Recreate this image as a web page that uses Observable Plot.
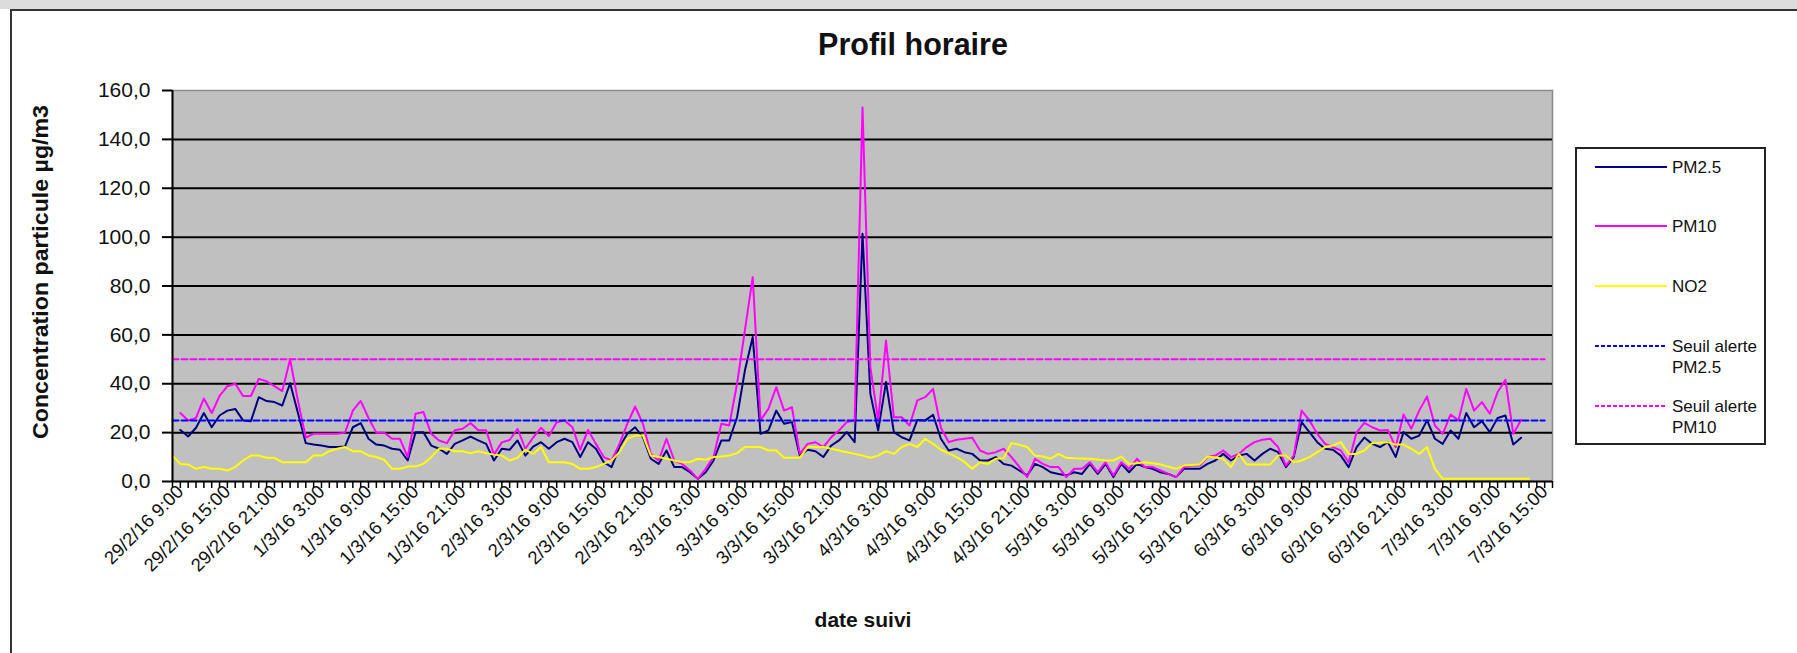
<!DOCTYPE html>
<html>
<head>
<meta charset="utf-8">
<script src="https://cdn.jsdelivr.net/npm/d3@7"></script>
<script src="https://cdn.jsdelivr.net/npm/@observablehq/plot@0.6"></script>
<style>
  html, body { margin: 0; padding: 0; background: #fff; }
  #wrap { position: relative; width: 1797px; height: 653px; overflow: hidden;
          font-family: "Liberation Sans", Arial, sans-serif; color: #111; }
  #band { position: absolute; left: 0; top: 0; width: 1797px; height: 9px; background: #dcdcdc; }
  #border { position: absolute; left: 10px; top: 9px; width: 1800px; height: 700px;
            border: 2px solid #333; box-sizing: border-box; pointer-events: none; }
  #chart { position: absolute; left: 0; top: 0; }
  #overlay { position: absolute; left: 0; top: 0; pointer-events: none; }
  #legend { position: absolute; left: 1575px; top: 147px; width: 191px; height: 298px;
            border: 2px solid #222; box-sizing: border-box; background: #fff; }
  .item { position: absolute; left: 0; width: 100%; }
  .item svg { position: absolute; left: 18px; top: 0; }
  .item span { position: absolute; left: 95px; top: 1px; font-size: 17px; line-height: 21px; color: #111; white-space: nowrap; }
</style>
</head>
<body>
<div id="wrap">
  <div id="band"></div>
  <div id="chart"></div>
  <svg id="overlay" width="1797" height="653"></svg>
  <div id="legend"></div>
  <div id="border"></div>
</div>
<script>
// ---- Data ----
// categories: hourly, first category 29/2/16 8:00
const startHour = new Date(2016, 1, 29, 8);
const nCategories = 177;
const fmtCat = d => `${d.getDate()}/${d.getMonth() + 1}/16 ${d.getHours()}:00`;
const categories = d3.range(nCategories).map(i => fmtCat(d3.timeHour.offset(startHour, i)));

const tickLabels = ["29/2/16 9:00","29/2/16 15:00","29/2/16 21:00","1/3/16 3:00","1/3/16 9:00","1/3/16 15:00",
  "1/3/16 21:00","2/3/16 3:00","2/3/16 9:00","2/3/16 15:00","2/3/16 21:00","3/3/16 3:00","3/3/16 9:00",
  "3/3/16 15:00","3/3/16 21:00","4/3/16 3:00","4/3/16 9:00","4/3/16 15:00","4/3/16 21:00","5/3/16 3:00",
  "5/3/16 9:00","5/3/16 15:00","5/3/16 21:00","6/3/16 3:00","6/3/16 9:00","6/3/16 15:00","6/3/16 21:00",
  "7/3/16 3:00","7/3/16 9:00","7/3/16 15:00"];

const yTicks = [0, 20, 40, 60, 80, 100, 120, 140, 160];

const pm25 = [null,
  21.1,18.4,22,28,22.2,27,29,29.7,25,24.7,34.5,32.9,32.5,31.1,40.2,28,15.7,15.1,14.7,14.1,
  14.1,14.3,22.2,23.9,17.5,15.1,14.7,13.4,13,8.6,20.2,20.2,14.7,13.4,11.3,15.4,16.8,18.4,16.8,15.4,
  8.6,13.4,13,16.8,10.6,14.3,16.1,13.4,16.1,17.5,16.1,10,16.1,13.4,7.9,5.9,14.1,19.5,22.2,18.1,
  9.3,7.2,12.7,5.9,5.9,3.8,1.1,3.8,8.6,16.8,16.8,26.3,45.4,59.1,19.5,20.9,29,23.6,24.3,10.6,
  13,12.4,10,14.7,16.8,20.2,16.1,101.4,35.9,20.9,40.7,20.2,18.1,16.8,25.2,25,27.3,17.5,12.7,13.4,
  12,11.3,8.6,8.6,10,7.2,6.5,4.5,2.5,7.2,5.9,3.8,3.1,2.5,3.8,3.1,7.2,3.1,7.2,1.8,
  7.2,3.8,7.2,5.9,5.2,3.8,3.1,1.8,5.2,5.2,5.2,7.2,8.6,11.3,8.6,10.6,11.3,8.6,11.3,13.4,
  12,5.9,10,24.3,20.2,16.1,13.4,13,10.6,5.9,14,18,15.4,14.1,16.1,10,20.2,17.5,18.8,25,
  17.5,15.4,20.9,17.5,28,22.2,24.7,20.2,26,27,15.1,17.9, null];

const pm10 = [null,
  28,25,26,34,28,35,39,40,35,35,42,41,39,37,50,33,18,19.5,19.5,19.5,
  19.5,20,29,33,26,20,20,17.5,17.5,10,27.7,28.4,19.5,16.8,15.7,21,21.6,23.9,21,21,
  11,16,17,21.6,13.4,18,22,18.6,24.2,25,22.2,13,21.1,15.4,10,8.6,15.4,23.6,30.7,23.6,
  11.3,8.6,17.5,8.6,7.2,4.5,1.1,5.2,10,23.6,22.9,40,61.8,83.6,25,29.7,38.6,29,30.4,11.3,
  15.4,16.1,14.1,18.1,20.9,24.3,25,153,46.8,25,57.7,26.3,26.3,22.9,33.2,34.5,37.9,22,16.1,17.1,
  17.5,17.9,12.7,11.3,12,13.4,10,6,1.8,9.3,7.2,5.9,5.9,1.8,5.2,5.2,7.9,3.8,7.9,2.5,
  7.9,5.2,9.3,5.9,5.9,4.5,3.1,1.8,5.9,6.5,6.5,10,10.6,12.7,10,11.3,14.1,16.1,17.1,17.5,
  14.1,6.5,10.6,29,25,19.5,15.4,14.1,12.7,7.9,20,24,22.2,20.9,21.1,14.1,27.4,21.6,29,34.8,
  22.9,19.5,27.4,25,37.9,29,32.5,27.7,36.6,41.6,19.5,25.2, null];

const no2 = [10.6,
  7.2,7,5.2,5.9,5.2,5.2,4.5,5.9,8.6,10.6,10.6,9.7,9.7,7.9,7.9,7.9,7.9,10.6,10.6,12.4,
  13.4,14.1,12.4,12.4,10.6,10,8.9,5.2,5.2,6.1,6.1,7.2,10,13.4,13.4,12.4,12.4,11.6,12.4,11.6,
  11,10.6,8.6,9.7,13,11.3,14.1,7.9,7.9,7.9,7.2,5.2,5.2,5.9,7.2,8.6,12,17.5,18.8,18.8,
  10.6,10,9.3,8.6,7.9,7.9,9.3,8.9,10,10.2,10.6,11.6,14.1,14.1,14.1,12.7,12.7,9.7,9.7,9.7,
  14.1,14.1,14.1,13.4,12.7,12,11.3,10.6,9.7,10.6,12.4,11.3,14.1,15.4,14.1,17.5,15.4,13,11.5,10,
  8,5.2,7.9,7.2,9.3,9.5,15.7,15,14.1,10.6,10.2,9.3,11.3,9.7,9.5,9.4,9.3,9,8.6,8.6,
  10.2,7.2,7.5,7.9,7.5,7,6,5.2,6.5,6.8,7,10.2,9.8,9.3,5.9,11.3,7,7,7,7,
  10.6,10.6,7.9,8.6,10,12,14.1,14.7,16.1,11.3,11.3,12.7,15.7,15.9,16.1,15.1,15.1,13.4,11.3,14.1,
  5.2,1.1,1.1,1.1,1.1,1.1,1.1,1.1,1.1,1.1,1.1,1.1,1.1];

const seuilPM25 = 25;
const seuilPM10 = 50;

const seriesNames = ["PM2.5", "PM10", "NO2", "Seuil alerte PM2.5", "Seuil alerte PM10"];
const seriesColors = ["#000080", "#ff00ff", "#ffff00", "#0000ff", "#ff00ff"];

// ---- Build rows ----
const rows = (arr) => arr.map((v, i) => ({i, v})).filter(d => d.v != null);
const idx = d3.range(categories.length - 1);
const tickIdx = tickLabels.map(l => categories.indexOf(l));
const fmtY = v => v.toFixed(1).replace(".", ",");

const chart = Plot.plot({
  width: 1797,
  height: 653,
  marginLeft: 172,
  marginRight: 245,
  marginTop: 90,
  marginBottom: 172,
  style: {background: "transparent", fontFamily: "'Liberation Sans', Arial, sans-serif", color: "#111", overflow: "visible"},
  x: {type: "linear", domain: [0, categories.length - 1], axis: null},
  y: {domain: [yTicks[0], yTicks[yTicks.length - 1]], axis: null},
  marks: [
    Plot.frame({fill: "#c0c0c0", stroke: "#8a8a8a", strokeWidth: 1.5}),
    Plot.ruleY(yTicks.slice(1, -1), {stroke: "#000", strokeWidth: 2}),
    Plot.line(rows(pm25), {x: "i", y: "v", stroke: seriesColors[0], strokeWidth: 2}),
    Plot.line(rows(pm10), {x: "i", y: "v", stroke: seriesColors[1], strokeWidth: 2}),
    Plot.line(rows(no2), {x: "i", y: "v", stroke: seriesColors[2], strokeWidth: 2}),
    Plot.line(idx, {x: d => d, y: () => seuilPM25, stroke: seriesColors[3], strokeWidth: 2, strokeDasharray: "6,3"}),
    Plot.line(idx, {x: d => d, y: () => seuilPM10, stroke: seriesColors[4], strokeWidth: 2, strokeDasharray: "6,3"}),
    Plot.ruleX([0], {stroke: "#000", strokeWidth: 2}),
    Plot.ruleY([yTicks[0]], {stroke: "#000", strokeWidth: 2}),
    Plot.axisY({ticks: yTicks, tickSize: 10, tickPadding: 12, tickFormat: fmtY, fontSize: 21, strokeWidth: 2, stroke: "#000", fill: "#111", label: null}),
    Plot.axisX({ticks: d3.range(categories.length), tickSize: 7, tickFormat: () => "", strokeWidth: 1.5, stroke: "#000", label: null}),
    Plot.axisX({ticks: tickIdx, tickSize: 0, tickPadding: 7, tickRotate: -45, tickFormat: i => categories[i], fontSize: 18.5, fill: "#111", label: null})
  ]
});
document.getElementById("chart").appendChild(chart);

// ---- Titles ----
const ov = d3.select("#overlay");
ov.append("text").attr("x", 913).attr("y", 55).attr("text-anchor", "middle")
  .attr("font-size", 30.5).attr("font-weight", "bold").attr("fill", "#111")
  .attr("font-family", "'Liberation Sans', Arial, sans-serif").text("Profil horaire");
ov.append("text").attr("transform", "translate(48,272) rotate(-90)").attr("text-anchor", "middle")
  .attr("font-size", 22).attr("font-weight", "bold").attr("fill", "#111")
  .attr("textLength", 334).attr("lengthAdjust", "spacingAndGlyphs")
  .attr("font-family", "'Liberation Sans', Arial, sans-serif").text("Concentration particule µg/m3");
ov.append("text").attr("x", 863).attr("y", 627).attr("text-anchor", "middle")
  .attr("font-size", 21).attr("font-weight", "bold").attr("fill", "#111")
  .attr("font-family", "'Liberation Sans', Arial, sans-serif").text("date suivi");

// ---- Legend ----
const legend = d3.select("#legend");
const legendTops = [7, 66, 126, 186, 246];
seriesNames.forEach((name, k) => {
  const item = legend.append("div").attr("class", "item").style("top", legendTops[k] + "px");
  const svg = item.append("svg").attr("width", 74).attr("height", 22);
  svg.append("line").attr("x1", 0).attr("x2", 72).attr("y1", 11).attr("y2", 11)
    .attr("stroke", seriesColors[k]).attr("stroke-width", 2)
    .attr("stroke-dasharray", k >= 3 ? "4,2" : null);
  const words = k >= 3 ? ["Seuil alerte", name.replace("Seuil alerte ", "")] : [name];
  item.append("span").html(words.join("<br>"));
});
</script>
</body>
</html>
